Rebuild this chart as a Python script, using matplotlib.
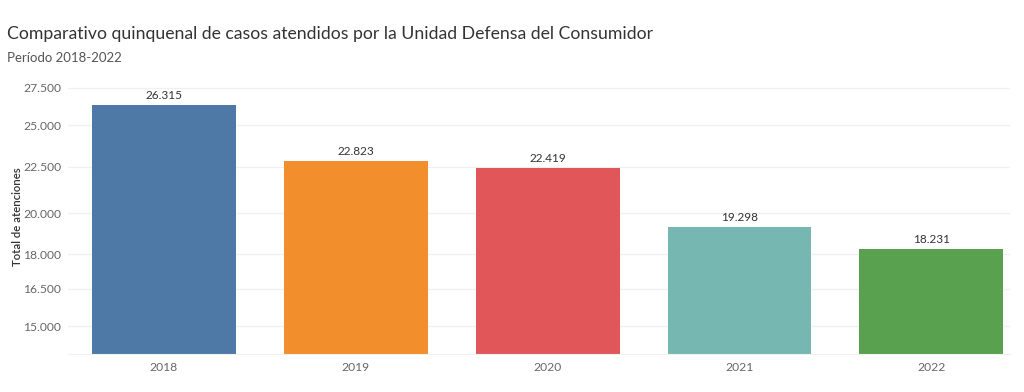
import numpy as np
import matplotlib.pyplot as plt
from matplotlib.ticker import FixedLocator, NullLocator

years = ["2018", "2019", "2020", "2021", "2022"]
casos = [26315, 22823, 22419, 19298, 18231]
colores = ["#4e79a7", "#f28e2b", "#e15759", "#76b7b2", "#59a14f"]
ticks_y = [15000, 16500, 18000, 20000, 22500, 25000, 27500]

plt.rcParams['font.family'] = ['Lato', 'DejaVu Sans']

def miles(v):
    return f"{v:,.0f}".replace(",", ".")

fig = plt.figure(figsize=(10.24, 3.92), dpi=100)
ax = fig.add_axes([68 / 1024, 1 - 354 / 392, (1010 - 68) / 1024, (354 - 80) / 392])

x = np.arange(len(years))
ax.bar(x, casos, width=0.75, color=colores, zorder=2)
for xi, v in zip(x, casos):
    ax.annotate(miles(v), (xi, v), xytext=(0, 3), textcoords="offset points",
                ha="center", va="bottom", fontsize=8.5, color="#333333")

ax.set_yscale("log")
ax.set_ylim(13968, 28066)
ax.yaxis.set_major_locator(FixedLocator(ticks_y))
ax.yaxis.set_minor_locator(NullLocator())
ax.set_yticks(ticks_y)
ax.set_yticklabels([miles(t) for t in ticks_y])
ax.set_xlim(-0.5, 4.41)
ax.set_xticks(x)
ax.set_xticklabels(years)
ax.tick_params(axis="both", length=0, labelsize=8.7, labelcolor="#666666")
ax.tick_params(axis="y", pad=5)
ax.tick_params(axis="x", pad=6)
ax.grid(axis="y", color="#f0f0f0", linewidth=1, zorder=0)
for s in ["top", "right", "left"]:
    ax.spines[s].set_visible(False)
ax.spines["bottom"].set_color("#f0f0f0")
ax.set_ylabel("Total de atenciones", fontsize=8.2, color="#333333", fontweight="semibold")
ax.yaxis.set_label_coords(-(68 - 23) / 942, 0.5)

fig.text(7 / 1024, 1 - 34 / 392, "Comparativo quinquenal de casos atendidos por la Unidad Defensa del Consumidor",
         fontsize=12.7, color="#333333", va="center")
fig.text(7 / 1024, 1 - 58 / 392, "Período 2018-2022", fontsize=9.5, color="#555555", va="center")

fig.savefig("out.png", dpi=100)
